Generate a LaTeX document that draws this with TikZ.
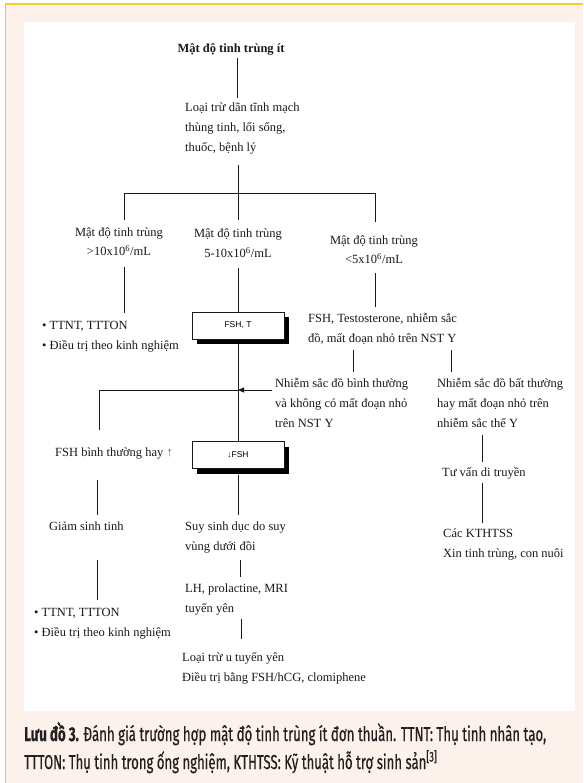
\documentclass[tikz,border=0pt]{standalone}
\usepackage{graphicx}
\usepackage{fontspec}
\setmainfont{Liberation Serif}
\newfontfamily\boxfont{Liberation Sans}
\newfontfamily\capfont[FakeBold=0.7]{Fira Sans}
\usetikzlibrary{shadows,arrows.meta}
\definecolor{peach}{RGB}{252,242,235}
\definecolor{gold}{RGB}{248,204,40}
\definecolor{ink}{RGB}{25,25,25}
\definecolor{upblue}{RGB}{60,100,170}
\definecolor{capink}{RGB}{35,31,32}
\begin{document}
\begin{tikzpicture}[x=1pt,y=-1pt,
  txt/.style={font=\fontsize{12.5}{20}\selectfont, text=ink, inner sep=0pt, align=left, anchor=base west},
  ctxt/.style={txt, align=center, anchor=base},
  ttl/.style={ctxt, font=\fontsize{12.5}{20}\selectfont\bfseries},
  sbox/.style={draw=ink, line width=0.8pt, fill=white, minimum width=92pt, minimum height=27pt, inner sep=0pt,
    font=\boxfont\fontsize{8.5}{10}\selectfont,
    drop shadow={shadow xshift=4.5pt, shadow yshift=-5pt, fill=black, opacity=1}},
  link/.style={draw=ink, line width=0.8pt},
  pointer/.style={link, -{Triangle[length=6pt,width=5pt]}},
]
\useasboundingbox (0,0) rectangle (583,783);
\fill[white] (0,0) rectangle (583,783);
\fill[peach] (5.5,4) rectangle (583,783);
\draw[gold, line width=1.3pt] (5.5,783) -- (5.5,4) -- (583,4);
\fill[white] (24,22) rectangle (575,711);

% text nodes (anchor = baseline of the last line)
\node[ttl] (title) at (231,53) {Mật độ tinh trùng ít};
\node[txt] (loai) at (185,152) {Loại trừ dãn tĩnh mạch\\thùng tinh, lối sống,\\thuốc, bệnh lý};
\node[ctxt] (m1) at (119,256) {Mật độ tinh trùng\\>10x10\textsuperscript{6}/mL};
\node[ctxt] (m2) at (238,258) {Mật độ tinh trùng\\5-10x10\textsuperscript{6}/mL};
\node[ctxt] (m3) at (374,264) {Mật độ tinh trùng\\<5x10\textsuperscript{6}/mL};
\node[txt] (b1) at (42,349) {• TTNT, TTTON\\• Điều trị theo kinh nghiệm};
\node[sbox] (box1) at (238,325.5) {FSH, T};
\node[txt] (fsht) at (308,342) {FSH, Testosterone, nhiễm sắc\\đồ, mất đoạn nhỏ trên NST Y};
\node[txt] (nst1) at (275,427) {Nhiễm sắc đồ bình thường\\và không có mất đoạn nhỏ\\trên NST Y};
\node[txt] (nst2) at (437,427) {Nhiễm sắc đồ bất thường\\hay mất đoạn nhỏ trên\\nhiễm sắc thể Y};
\node[txt] (fshn) at (55,456) {FSH bình thường hay {\color{upblue}↑}};
\node[sbox] (box2) at (238,455) {↓FSH};
\node[txt] (giam) at (49,530) {Giảm sinh tinh};
\node[txt] (suy) at (185,550) {Suy sinh dục do suy\\vùng dưới đồi};
\node[txt] (tuvan) at (442,476) {Tư vấn di truyền};
\node[txt] (cac) at (443,557) {Các KTHTSS\\Xin tinh trùng, con nuôi};
\node[txt] (b2) at (34,636) {• TTNT, TTTON\\• Điều trị theo kinh nghiệm};
\node[txt] (lh) at (185,612) {LH, prolactine, MRI\\tuyến yên};
\node[txt] (lt) at (182,681) {Loại trừ u tuyến yên\\Điều trị bằng FSH/hCG, clomiphene};

% column coordinates
\coordinate (cT) at (237,0);
\coordinate (cL) at (124,193);
\coordinate (cM) at (238,193);
\coordinate (cR) at (375,193);
\coordinate (jA) at (238,390);
\coordinate (cF) at (99,0);
\coordinate (cG) at (97,0);
\coordinate (cS) at (240,0);
\coordinate (cS2) at (241,0);
\coordinate (cN1) at (353,0);
\coordinate (cN2) at (451,0);
\coordinate (cV) at (482,0);

% connectors
\draw[link] ([yshift=-5pt]title.base -| cT) -- ([yshift=54pt]loai.base -| cT);
\draw[link] ([yshift=-13pt]loai.base -| cM) -- (cM);
\draw[link] (cL) -- (cR);
\draw[link] (cL) -- ([yshift=36pt]m1.base -| cL);
\draw[link] (cM) -- ([yshift=38pt]m2.base -| cM);
\draw[link] (cR) -- ([yshift=42pt]m3.base -| cR);
\draw[link] ([yshift=-11pt]m1.base -| cL) -- ([yshift=36pt]b1.base -| cL);
\draw[link] ([yshift=-10pt]m2.base -| cM) -- (box1.north);
\draw[link] ([yshift=-9pt]m3.base -| cR) -- ([yshift=35pt]fsht.base -| cR);
\draw[link] ([yshift=-8pt]fsht.base -| cN1) -- ([yshift=55pt]nst1.base -| cN1);
\draw[link] ([yshift=-8pt]fsht.base -| cN2) -- ([yshift=55pt]nst2.base -| cN2);
\draw[link] ([yshift=-5pt]box1.south) -- (box2.north);
\draw[pointer, shorten <=3pt] (jA -| nst1.west) -- (jA);
\draw[link] (jA) -| ([yshift=26pt]fshn.base -| cF);
\draw[link] ([yshift=-24pt]fshn.base -| cG) -- ([yshift=15pt]giam.base -| cG);
\draw[link] ([yshift=-30pt]giam.base -| cG) -- ([yshift=36pt]b2.base -| cG);
\draw[link] ([yshift=-6.5pt]box2.south) -- ([yshift=35pt]suy.base -| box2.south);
\draw[link] ([yshift=-10pt]suy.base -| cS) -- ([yshift=35pt]lh.base -| cS);
\draw[link] ([yshift=-7pt]lh.base -| cS2) -- ([yshift=42pt]lt.base -| cS2);
\draw[link] ([yshift=-8pt]nst2.base -| cV) -- ([yshift=14pt]tuvan.base -| cV);
\draw[link] ([yshift=-7pt]tuvan.base -| cV) -- ([yshift=34pt]cac.base -| cV);

% caption
\node[anchor=base west, inner sep=0pt, align=left, font=\capfont\fontsize{20}{28}\selectfont, text=capink] (cap) at (24,769)
  {\resizebox{522pt}{\height}{\textbf{Lưu đồ 3.} Đánh giá trường hợp mật độ tinh trùng ít đơn thuần. TTNT: Thụ tinh nhân tạo,}\\
   \resizebox{413pt}{\height}{TTTON: Thụ tinh trong ống nghiệm, KTHTSS: Kỹ thuật hỗ trợ sinh sản\textsuperscript{[3]}}};
\end{tikzpicture}
\end{document}
